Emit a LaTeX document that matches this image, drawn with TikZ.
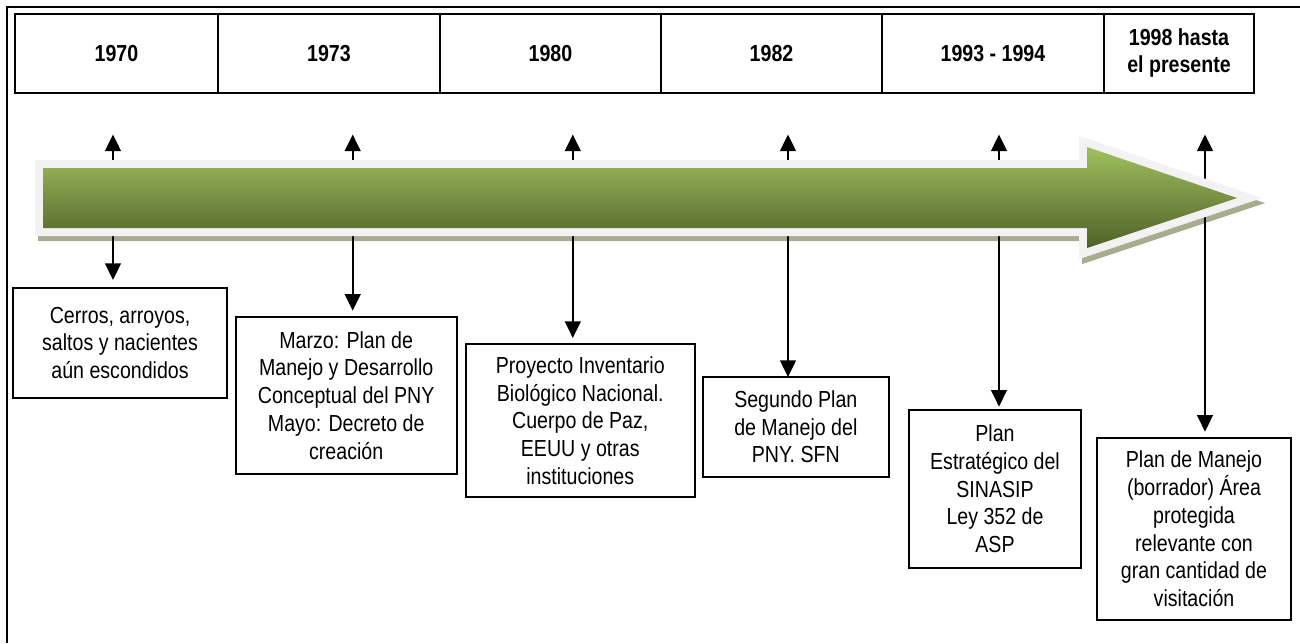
\documentclass[tikz,border=0pt]{standalone}
\usepackage{fontspec}
\setmainfont{Liberation Sans}[FakeStretch=0.845]
\usetikzlibrary{arrows.meta}
\definecolor{lightedge}{RGB}{242,242,242}
\definecolor{shadowc}{RGB}{166,173,145}
\definecolor{gtop}{RGB}{160,192,94}
\definecolor{gbot}{RGB}{78,97,40}
\begin{document}
\begin{tikzpicture}[x=0.75pt,y=-0.75pt,
  hdr/.style={draw, line width=1.5pt, outer sep=0pt, inner sep=0pt, minimum height=59.4pt,
    font=\fontsize{17.4}{20}\selectfont\bfseries, align=center, anchor=west},
  evbox/.style={draw, line width=1.5pt, outer sep=0pt, inner sep=2pt, anchor=north west,
    align=center, font=\fontsize{17.4}{20.8}\selectfont},
  conn/.style={line width=1.7pt,
    {Triangle[length=12.5pt,width=11.8pt]}-{Triangle[length=12.5pt,width=11.8pt]}}]
\useasboundingbox (0,0) rectangle (1300,643);
% outer frame
\draw[line width=1.5pt] (7,643) -- (7,7) -- (1300,7);
% header row
\node[hdr, minimum width=152.25pt] (h1) at (15,53.1) {1970};
\node[hdr, minimum width=166.5pt] (h2) at (h1.east) {1973};
\node[hdr, minimum width=165.75pt] (h3) at (h2.east) {1980};
\node[hdr, minimum width=165.75pt] (h4) at (h3.east) {1982};
\node[hdr, minimum width=166.5pt] (h5) at (h4.east) {1993 - 1994};
\node[hdr, minimum width=112.5pt] (h6) at (h5.east) {1998 hasta\\el presente};
% event boxes
\node[evbox, minimum width=160pt, minimum height=82.7pt] (b1) at (13.4,287.7)
  {Cerros, arroyos,\\saltos y nacientes\\aún escondidos};
\node[evbox, minimum width=165.75pt, minimum height=118pt] (b2) at (235.7,316.7)
  {Marzo: Plan de\\Manejo y Desarrollo\\Conceptual del PNY\\Mayo: Decreto de\\creación};
\node[evbox, minimum width=172pt, minimum height=114.75pt] (b3) at (465.6,344)
  {Proyecto Inventario\\Biológico Nacional.\\Cuerpo de Paz,\\EEUU y otras\\instituciones};
\node[evbox, minimum width=139.7pt, minimum height=74.8pt] (b4) at (702.7,377)
  {Segundo Plan\\de Manejo del\\PNY. SFN};
\node[evbox, minimum width=129pt, minimum height=118.3pt] (b5) at (909,410)
  {Plan\\Estratégico del\\SINASIP\\Ley 352 de\\ASP};
\node[evbox, minimum width=145.5pt, minimum height=136.7pt] (b6) at (1097,437.7)
  {Plan de Manejo\\(borrador) Área\\protegida\\relevante con\\gran cantidad de\\visitación};
% shadow of the timeline arrow
\begin{scope}[shift={(3,5)}]
  \filldraw[shadowc, line width=12pt, line join=miter]
    (43,168) -- (1087,168) -- (1087,147) -- (1237,198) -- (1087,248) -- (1087,228) -- (43,228) -- cycle;
\end{scope}
% connectors
\coordinate (t1) at (113,134.5);
\coordinate (t2) at (352.7,134.5);
\coordinate (t3) at (572.8,134.5);
\coordinate (t4) at (788,134.5);
\coordinate (t5) at (999,134.5);
\coordinate (t6) at (1205,134.5);
\draw[conn, shorten >=5.8pt] (t1) -- (t1 |- b1.north);
\draw[conn, shorten >=4.5pt] (t2) -- (t2 |- b2.north);
\draw[conn, shorten >=4.5pt] (t3) -- (t3 |- b3.north);
\draw[conn] (t4) -- (t4 |- b4.north);
\draw[conn, shorten >=2.5pt] (t5) -- (t5 |- b5.north);
\draw[conn, shorten >=4.5pt] (t6) -- (t6 |- b6.north);
% timeline arrow
\draw[lightedge, line width=12pt, line join=miter]
  (43,168) -- (1087,168) -- (1087,147) -- (1237,198) -- (1087,248) -- (1087,228) -- (43,228) -- cycle;
\shade[top color=gtop, bottom color=gbot]
  (43,168) -- (1087,168) -- (1087,147) -- (1237,198) -- (1087,248) -- (1087,228) -- (43,228) -- cycle;
\end{tikzpicture}
\end{document}
